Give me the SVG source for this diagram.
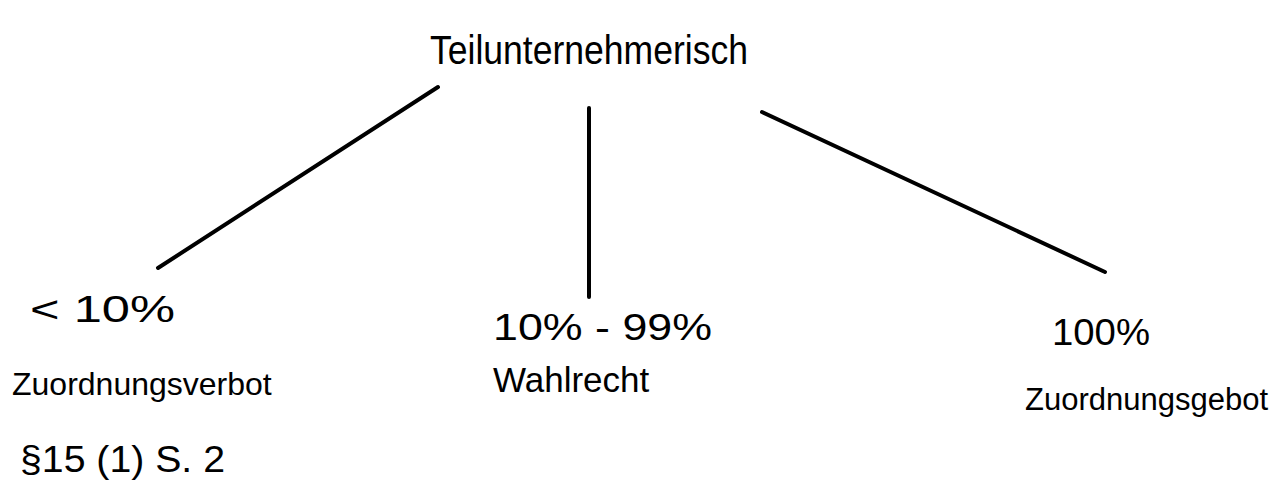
<svg xmlns="http://www.w3.org/2000/svg" width="1285" height="503" viewBox="0 0 1285 503">
<style>
.t{font-family:"Liberation Sans",Arial,sans-serif;fill:#000;font-size:36px}
.c{stroke:#000;stroke-width:4;stroke-linecap:round;fill:none}
</style>
<rect width="1285" height="503" fill="#fff"/>
<g id="connectors">
<line class="c" x1="438" y1="87" x2="158" y2="268"/>
<line class="c" x1="589" y1="108" x2="589" y2="297"/>
<line class="c" x1="762" y1="112" x2="1105" y2="272"/>
</g>
<g id="root"><text class="t" x="430" y="64" style="font-size:40px" textLength="318" lengthAdjust="spacingAndGlyphs">Teilunternehmerisch</text></g>
<g id="left">
<text class="t" x="30" y="322" textLength="145" lengthAdjust="spacingAndGlyphs">&lt; 10%</text>
<text class="t" x="12" y="395" style="font-size:32px">Zuordnungsverbot</text>
<text class="t" x="20" y="472" textLength="205" lengthAdjust="spacingAndGlyphs">§15 (1) S. 2</text>
</g>
<g id="middle">
<text class="t" x="493" y="340" textLength="219" lengthAdjust="spacingAndGlyphs">10% - 99%</text>
<text class="t" x="493" y="392" style="font-size:35px">Wahlrecht</text>
</g>
<g id="right">
<text class="t" x="1052" y="345" textLength="98" lengthAdjust="spacingAndGlyphs">100%</text>
<text class="t" x="1025" y="410" style="font-size:31px">Zuordnungsgebot</text>
</g>
</svg>
